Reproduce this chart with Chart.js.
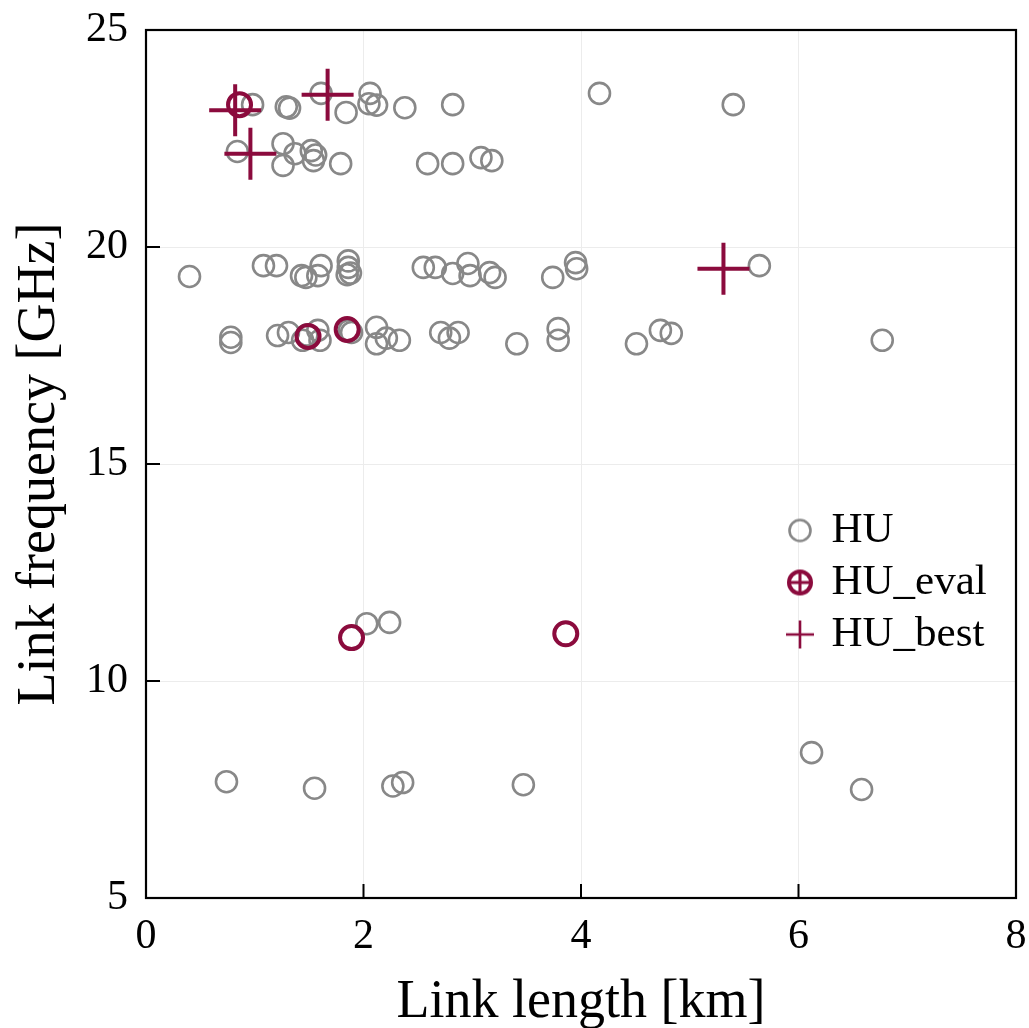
<!DOCTYPE html>
<html>
<head>
<meta charset="utf-8">
<script src="https://cdn.jsdelivr.net/npm/chart.js@4.4.1/dist/chart.umd.min.js"></script>
<style>
  html, body { margin: 0; padding: 0; background: #ffffff; }
  #wrap { width: 1029px; height: 1028px; }
</style>
</head>
<body>
<div id="wrap"><canvas id="c" width="1029" height="1028"></canvas></div>
<script>
// ---------- data ----------
const huX = [0.98, 1.29, 1.32, 1.61, 1.84, 2.06, 2.05, 2.12, 2.38, 2.82, 4.17, 5.40,
             0.84, 1.26, 1.26, 1.37, 1.52, 1.56, 1.54, 1.79, 2.59, 2.82, 3.08, 3.18,
             0.40, 1.08, 1.20, 1.43, 1.47, 1.61, 1.58, 1.86, 1.86, 1.85, 1.88, 2.55, 2.66, 2.82, 2.96, 2.98, 3.16, 3.21, 3.74, 3.95, 3.96, 5.64,
             0.78, 0.78, 1.21, 1.31, 1.44, 1.48, 1.58, 1.60, 1.89, 1.87, 2.12, 2.12, 2.21, 2.33, 2.71, 2.79, 2.87, 3.41, 3.79, 3.79, 4.51, 4.73, 4.83, 6.77,
             2.03, 2.24,
             0.74, 1.55, 2.27, 2.36, 3.47, 6.12, 6.58];
const huY = [23.28, 23.23, 23.20, 23.54, 23.10, 23.54, 23.30, 23.27, 23.21, 23.28, 23.54, 23.28,
             22.20, 22.38, 21.88, 22.15, 22.22, 22.12, 21.99, 21.92, 21.92, 21.92, 22.06, 21.99,
             19.32, 19.57, 19.57, 19.34, 19.30, 19.57, 19.34, 19.68, 19.53, 19.36, 19.40, 19.53, 19.53, 19.39, 19.62, 19.34, 19.41, 19.30, 19.30, 19.64, 19.50, 19.57,
             17.92, 17.80, 17.96, 18.03, 17.85, 17.97, 18.08, 17.85, 18.03, 18.08, 18.15, 17.77, 17.90, 17.85, 18.03, 17.90, 18.03, 17.77, 18.12, 17.85, 17.77, 18.08, 18.01, 17.85,
             11.32, 11.35,
             7.68, 7.53, 7.58, 7.66, 7.61, 8.35, 7.50];
const evalX = [0.86, 1.49, 1.85, 1.89, 3.86];
const evalY = [23.28, 17.94, 18.10, 11.00, 11.09];
const bestX = [0.82, 1.67, 0.96, 5.31];
const bestY = [23.15, 23.51, 22.15, 19.50];

const xTicks = [0, 2, 4, 6, 8];
const yTicks = [5, 10, 15, 20, 25];
const seriesNames = ['HU', 'HU_eval', 'HU_best'];

const GRAY = '#888888';
const RED = '#8b0b3d';
const FONT = "'Liberation Serif', 'Times New Roman', serif";

const pts = (xs, ys) => xs.map((x, i) => ({ x: x, y: ys[i] }));

// ---------- legend icons ----------
function makeIcon(kind) {
  const cv = document.createElement('canvas');
  cv.width = 34; cv.height = 34;
  const g = cv.getContext('2d');
  const c = 17;
  if (kind === 'hu') {
    g.strokeStyle = GRAY; g.lineWidth = 2.6;
    g.beginPath(); g.arc(c, c, 10.5, 0, Math.PI * 2); g.stroke();
  } else if (kind === 'eval') {
    g.strokeStyle = RED; g.lineWidth = 4;
    g.beginPath(); g.arc(c, c, 11, 0, Math.PI * 2); g.stroke();
    g.lineWidth = 3;
    g.beginPath(); g.moveTo(c - 11, c); g.lineTo(c + 11, c);
    g.moveTo(c, c - 11); g.lineTo(c, c + 11); g.stroke();
  } else {
    g.strokeStyle = RED; g.lineWidth = 2.6;
    g.beginPath(); g.moveTo(c - 14, c); g.lineTo(c + 14, c);
    g.moveTo(c, c - 14); g.lineTo(c, c + 14); g.stroke();
  }
  return cv;
}
const icons = [makeIcon('hu'), makeIcon('eval'), makeIcon('best')];

// ---------- plugins ----------
const legendPos = {
  id: 'legendPos',
  afterLayout(chart) {
    const lg = chart.legend;
    if (!lg) return;
    const L = 781, T = 500;
    lg.left = L; lg.top = T;
    lg.width = 240; lg.height = 300;
    lg.right = L + 240; lg.bottom = T + 300;
  }
};

const framePlugin = {
  id: 'frame',
  afterDraw(chart) {
    const { ctx, chartArea: a, scales } = chart;
    ctx.save();
    ctx.strokeStyle = '#000000';
    ctx.lineWidth = 2;
    // inward ticks
    ctx.beginPath();
    xTicks.forEach(v => {
      const px = scales.x.getPixelForValue(v);
      ctx.moveTo(px, a.bottom); ctx.lineTo(px, a.bottom - 14);
    });
    yTicks.forEach(v => {
      const py = scales.y.getPixelForValue(v);
      ctx.moveTo(a.left, py); ctx.lineTo(a.left + 14, py);
    });
    ctx.stroke();
    ctx.lineWidth = 2.2;
    ctx.strokeRect(a.left, a.top, a.right - a.left, a.bottom - a.top);
    ctx.restore();
  }
};

function zeroXPad(s) {
  s.height = 130;
  s.paddingLeft = 0; s.paddingRight = 0;
}

new Chart(document.getElementById('c'), {
  type: 'scatter',
  data: {
    datasets: [
      {
        label: seriesNames[0], data: pts(huX, huY), order: 3,
        pointStyle: 'circle', pointRadius: 10.5, pointHoverRadius: 10.5,
        borderColor: GRAY, backgroundColor: 'rgba(0,0,0,0)', borderWidth: 2.6
      },
      {
        label: seriesNames[1], data: pts(evalX, evalY), order: 2,
        pointStyle: 'circle', pointRadius: 11.5, pointHoverRadius: 11.5,
        borderColor: RED, backgroundColor: 'rgba(0,0,0,0)', borderWidth: 4
      },
      {
        label: seriesNames[2], data: pts(bestX, bestY), order: 1,
        pointStyle: 'cross', pointRadius: 26, pointHoverRadius: 26,
        borderColor: RED, backgroundColor: RED, borderWidth: 4
      }
    ]
  },
  options: {
    responsive: false,
    animation: false,
    devicePixelRatio: 1,
    events: [],
    layout: { autoPadding: false, padding: { top: 30, right: 13, left: 0, bottom: 0 } },
    plugins: {
      tooltip: { enabled: false },
      title: { display: false },
      legend: {
        display: true,
        position: 'chartArea',
        align: 'start',
        labels: {
          usePointStyle: true,
          boxWidth: 20,
          boxHeight: 20,
          padding: 9,
          color: '#000000',
          font: { family: FONT, size: 43 },
          sort: (a, b) => a.datasetIndex - b.datasetIndex,
          generateLabels(chart) {
            const items = Chart.defaults.plugins.legend.labels.generateLabels(chart);
            items.forEach((it) => { it.pointStyle = icons[it.datasetIndex]; it.fontColor = '#000000'; });
            return items;
          }
        }
      }
    },
    scales: {
      x: {
        type: 'linear', min: 0, max: 8,
        afterFit: zeroXPad,
        ticks: {
          stepSize: 2, padding: 14, color: '#000000',
          font: { family: FONT, size: 42 },
          callback: (v) => xTicks.includes(v) ? String(v) : ''
        },
        grid: { color: '#ececec', lineWidth: 1, drawTicks: false },
        border: { display: false },
        title: {
          display: true, text: 'Link length [km]', color: '#000000',
          font: { family: FONT, size: 54, lineHeight: 0.95 },
          padding: { top: 0, bottom: 0 }
        }
      },
      y: {
        type: 'linear', min: 5, max: 25,
        afterFit(s) { s.width = 146; s.paddingTop = 0; s.paddingBottom = 0; },
        ticks: {
          stepSize: 5, padding: 18, color: '#000000',
          font: { family: FONT, size: 42 },
          callback: (v) => yTicks.includes(v) ? String(v) : ''
        },
        grid: { color: '#ececec', lineWidth: 1, drawTicks: false },
        border: { display: false },
        title: {
          display: true, text: 'Link frequency [GHz]', color: '#000000',
          font: { family: FONT, size: 54, lineHeight: 1 },
          padding: { top: 13, bottom: 0 }
        }
      }
    }
  },
  plugins: [legendPos, framePlugin]
});
</script>
</body>
</html>
